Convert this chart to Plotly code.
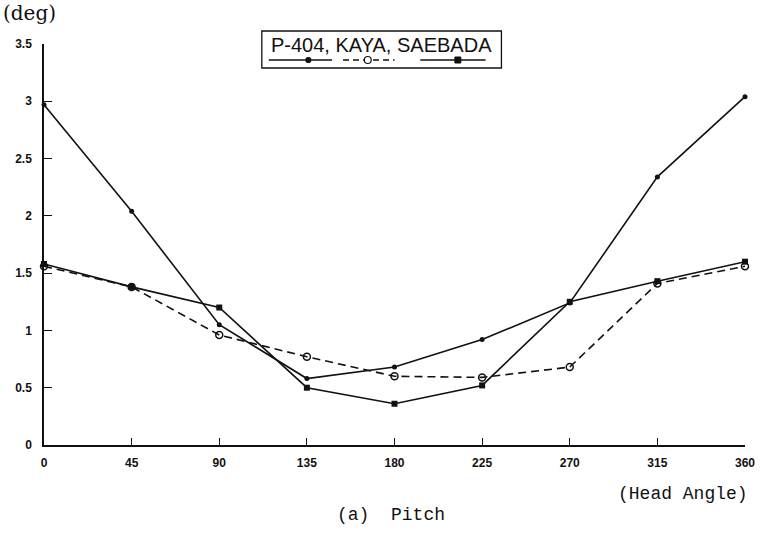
import plotly.graph_objects as go

# Head angle (deg) and pitch amplitude (deg) for three vessels
head_angle = [0, 45, 90, 135, 180, 225, 270, 315, 360]
p404 = [2.97, 2.04, 1.05, 0.58, 0.68, 0.92, 1.24, 2.34, 3.04]
kaya = [1.56, 1.38, 0.96, 0.77, 0.60, 0.59, 0.68, 1.41, 1.56]
saebada = [1.58, 1.38, 1.20, 0.50, 0.36, 0.52, 1.25, 1.43, 1.60]

x_ticks = [0, 45, 90, 135, 180, 225, 270, 315, 360]
y_ticks = [0, 0.5, 1, 1.5, 2, 2.5, 3, 3.5]
y_tick_labels = ["0", "0.5", "1", "1.5", "2", "2.5", "3", "3.5"]

W, H = 767, 533
L, R, T, B = 44, 15, 44, 88
PW, PH = W - L - R, H - T - B


def px(x):
    return (x - L) / PW


def py(y):
    return (H - B - y) / PH


INK = "#111111"
fig = go.Figure()

fig.add_trace(go.Scatter(
    x=head_angle, y=p404, mode="lines+markers", name="P-404",
    line=dict(color=INK, width=1.6),
    marker=dict(symbol="circle", size=5, color=INK),
    cliponaxis=False, showlegend=False))
fig.add_trace(go.Scatter(
    x=head_angle, y=kaya, mode="lines+markers", name="KAYA",
    line=dict(color=INK, width=1.6, dash="8px,5px"),
    marker=dict(symbol="circle-open", size=7, color=INK, line=dict(width=1.5)),
    cliponaxis=False, showlegend=False))
fig.add_trace(go.Scatter(
    x=head_angle, y=saebada, mode="lines+markers", name="SAEBADA",
    line=dict(color=INK, width=1.6),
    marker=dict(symbol="square", size=6, color=INK),
    cliponaxis=False, showlegend=False))

tick_font = dict(family="Liberation Sans", size=12, color=INK, weight="bold")

fig.update_xaxes(
    range=[0, 360], tickvals=x_ticks, ticktext=[str(v) for v in x_ticks],
    showgrid=False, zeroline=False, showline=True, linecolor=INK, linewidth=1.5,
    ticks="inside", ticklen=7, tickwidth=1.2, tickcolor=INK,
    tickfont=tick_font, ticklabelstandoff=6)
fig.update_yaxes(
    range=[0, 3.5], tickvals=y_ticks, ticktext=y_tick_labels,
    showgrid=False, zeroline=False, showline=True, linecolor=INK, linewidth=1.5,
    ticks="inside", ticklen=8, tickwidth=1.2, tickcolor=INK,
    tickfont=tick_font, ticklabelstandoff=8)

# Custom legend box: names on top, line samples underneath
box = dict(x0=px(264), x1=px(506), y0=py(68), y1=py(31))
fig.add_shape(type="rect", xref="paper", yref="paper", **box,
              line=dict(color=INK, width=1.3), fillcolor="white", layer="above")
fig.add_annotation(xref="paper", yref="paper", x=px(385), y=py(45),
                   text="P-404, KAYA, SAEBADA", showarrow=False,
                   font=dict(family="Liberation Sans", size=20, color=INK),
                   xanchor="center", yanchor="middle")

samples = [
    (271, 335, "solid", "circle", 5, 311),
    (346, 398, "dash", "circle-open", 7, 371),
    (424, 490, "solid", "square", 6, 462),
]
for x0, x1, dash, sym, size, mx in samples:
    fig.add_shape(type="line", xref="paper", yref="paper",
                  x0=px(x0), x1=px(x1), y0=py(60), y1=py(60),
                  line=dict(color=INK, width=1.4, dash=dash if dash == "solid" else "6px,4px"))
    half = size / 2
    if sym == "square":
        fig.add_shape(type="rect", xref="paper", yref="paper",
                      x0=px(mx - half), x1=px(mx + half), y0=py(60 + half), y1=py(60 - half),
                      line=dict(color=INK, width=1), fillcolor=INK)
    else:
        fig.add_shape(type="circle", xref="paper", yref="paper",
                      x0=px(mx - half), x1=px(mx + half), y0=py(60 + half), y1=py(60 - half),
                      line=dict(color=INK, width=1.2),
                      fillcolor=INK if sym == "circle" else "white")

fig.add_annotation(xref="paper", yref="paper", x=px(1), y=py(13),
                   text="(deg)", showarrow=False, xanchor="left", yanchor="middle",
                   font=dict(family="DejaVu Serif", size=20, color=INK))
fig.add_annotation(xref="paper", yref="paper", x=px(757), y=py(494),
                   text="(Head Angle)", showarrow=False, xanchor="right", yanchor="middle",
                   font=dict(family="Liberation Mono", size=18, color=INK))
fig.add_annotation(xref="paper", yref="paper", x=px(394), y=py(515),
                   text="(a)  Pitch", showarrow=False, xanchor="center", yanchor="middle",
                   font=dict(family="Liberation Mono", size=18, color=INK))

fig.update_layout(
    width=W, height=H, margin=dict(l=L, r=R, t=T, b=B),
    paper_bgcolor="white", plot_bgcolor="white")

fig.write_html("out.html")
